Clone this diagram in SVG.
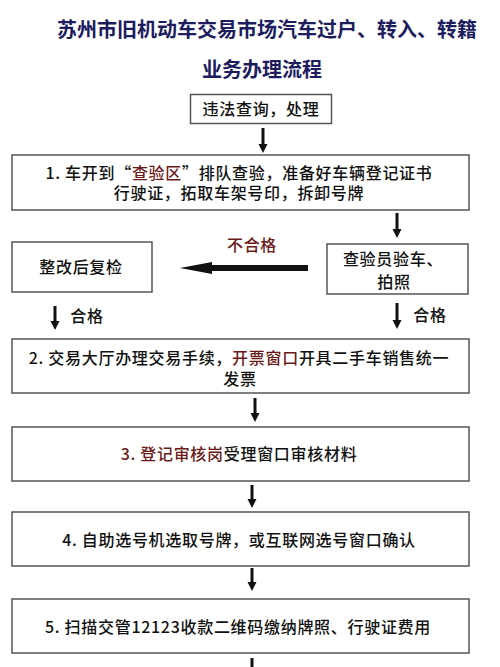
<svg xmlns="http://www.w3.org/2000/svg" width="500" height="667" viewBox="0 0 500 667">
<style>
.bx{fill:#fff;stroke:#555;stroke-width:1.5}
.t{font-family:"Noto Sans CJK SC","Liberation Sans",sans-serif;font-size:16px;font-weight:500;letter-spacing:0.7px;fill:#111;text-anchor:middle}
.r{fill:#6b1a1a}
.h{font-family:"Noto Sans CJK SC","Liberation Sans",sans-serif;font-size:20px;font-weight:bold;fill:#1c1c5e;text-anchor:middle}
.a{stroke:#111;stroke-width:3;fill:none}
.hd{fill:#111}
</style>
<rect width="500" height="667" fill="#fff"/>
<text class="h" x="267" y="37">苏州市旧机动车交易市场汽车过户、转入、转籍</text>
<text class="h" x="262" y="77">业务办理流程</text>
<g id="n0"><rect class="bx" x="190.5" y="94.5" width="141" height="29"/><text class="t" x="261" y="115">违法查询，处理</text></g>
<g id="n1"><rect class="bx" x="12" y="155" width="457" height="55"/><text class="t" x="239" y="179">1. 车开到“<tspan class="r">查验区</tspan>”排队查验，准备好车辆登记证书</text><text class="t" x="239" y="199">行驶证，拓取车架号印，拆卸号牌</text></g>
<g id="n2"><rect class="bx" x="12" y="242" width="140" height="50"/><text class="t" x="81" y="273">整改后复检</text></g>
<g id="n3"><rect class="bx" x="327" y="244" width="141" height="50"/><text class="t" x="393" y="265">查验员验车、</text><text class="t" x="394" y="288">拍照</text></g>
<g id="n4"><rect class="bx" x="12" y="339" width="457" height="54"/><text class="t" x="239" y="364">2. 交易大厅办理交易手续，<tspan class="r">开票窗口</tspan>开具二手车销售统一</text><text class="t" x="240" y="385">发票</text></g>
<g id="n5"><rect class="bx" x="12" y="427" width="457" height="54"/><text class="t" x="239" y="460"><tspan class="r">3. 登记审核岗</tspan>受理窗口审核材料</text></g>
<g id="n6"><rect class="bx" x="12" y="512" width="457" height="54"/><text class="t" x="239" y="546">4. 自助选号机选取号牌，或互联网选号窗口确认</text></g>
<g id="n7"><rect class="bx" x="12" y="599" width="457" height="54"/><text class="t" x="238" y="633">5. 扫描交管12123收款二维码缴纳牌照、行驶证费用</text></g>
<g id="connectors">
<line class="a" x1="263" y1="128" x2="263" y2="145"/><polygon class="hd" points="258.5,144 267.5,144 263,153"/>
<line class="a" x1="397" y1="213" x2="397" y2="230"/><polygon class="hd" points="392.5,229 401.5,229 397,238"/>
<line x1="308" y1="268" x2="205" y2="268" stroke="#111" stroke-width="6"/><polygon class="hd" points="212,262 212,274 180,268"/>
<text class="t" x="252" y="251" style="fill:#6b1a1a">不合格</text>
<line class="a" x1="55" y1="306" x2="55" y2="322"/><polygon class="hd" points="50.5,321 59.5,321 55,330"/>
<text class="t" x="87" y="322">合格</text>
<line class="a" x1="397" y1="303" x2="397" y2="321"/><polygon class="hd" points="392.5,320 401.5,320 397,329"/>
<text class="t" x="430" y="321">合格</text>
<line class="a" x1="255" y1="398" x2="255" y2="414"/><polygon class="hd" points="250.5,413 259.5,413 255,422"/>
<line class="a" x1="252" y1="485" x2="252" y2="500"/><polygon class="hd" points="247.5,499 256.5,499 252,508"/>
<line class="a" x1="252" y1="568" x2="252" y2="583"/><polygon class="hd" points="247.5,582 256.5,582 252,591"/>
<line class="a" x1="252" y1="658" x2="252" y2="667"/>
</g>
</svg>
